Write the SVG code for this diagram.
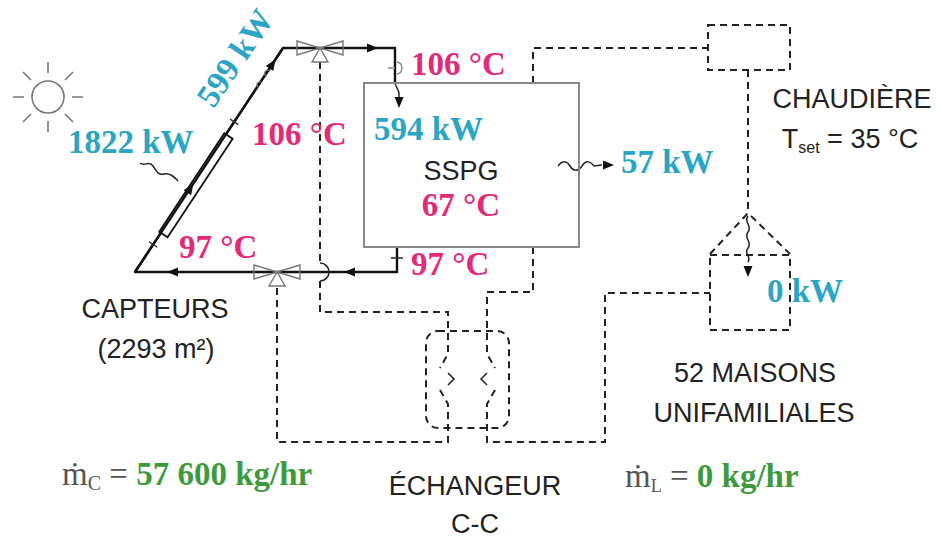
<svg xmlns="http://www.w3.org/2000/svg" width="940" height="540" viewBox="0 0 940 540">
<style>
.solid{fill:none;stroke:#111;stroke-width:2.4;stroke-linejoin:round}
.dash{fill:none;stroke:#222;stroke-width:2;stroke-dasharray:7 5}
.thin{fill:none;stroke:#222;stroke-width:1.5}
.gray{fill:none;stroke:#888;stroke-width:1.4}
.val{font-family:"Liberation Serif","Times New Roman",serif;font-weight:bold;font-size:33px}
.cy{fill:#2ba5c3}
.mg{fill:#e32a78}
.gr{fill:#3d9b3d}
.lbl{font-family:"Liberation Sans",Arial,sans-serif;font-size:27px;fill:#222}
.m{font-family:"Liberation Serif","Times New Roman",serif;font-size:33px;fill:#555}
</style>
<defs>
<path id="ah" d="M0,0 L-11,-4.5 L-11,4.5 Z" fill="#111"/>
<g id="valve"><path d="M-23,-7 L0,0 L-23,7 Z M23,-7 L0,0 L23,7 Z M0,0 L-8,14 H8 Z" fill="none" stroke="#777" stroke-width="1.4"/></g>
</defs>

<g id="sun" fill="none" stroke="#777" stroke-width="1.6">
<circle cx="48" cy="97" r="16"/>
<path d="M48,73 V62 M48,121 V132 M24,97 H13 M72,97 H83 M31,80 L23,72 M65,80 L73,72 M31,114 L23,122 M65,114 L73,122"/>
</g>

<g id="connectors">
<path class="solid" d="M397,247 V272 H135 L283,48 H395 V82"/>
<path class="thin" d="M395,82 c0,6 5,8 4,13 v3"/>
<use href="#ah" transform="translate(399,108) rotate(90)"/>
<path class="gray" d="M388,68 H395 M397,62 a5,6 0 0 1 0,12"/>
<path class="thin" d="M391,258 H403"/>
<use href="#ah" transform="translate(378,48)"/>
<use href="#ah" transform="translate(344,272) rotate(180)"/>
<use href="#ah" transform="translate(167,272) rotate(180)"/>
<path class="dash" d="M320,62 V263"/>
<path class="thin" d="M320,263 a9,9 0 0 1 0,18"/>
<path class="dash" d="M320,281 V312 H448 V354 L440,368"/>
<path class="dash" d="M440,390 L448,404 V442 H277 V286"/>
<path class="dash" d="M533,247 V292 H487 V354 L495,368"/>
<path class="dash" d="M495,390 L487,404 V442 H605 V293 H710"/>
<path class="dash" d="M533,83 V48 H708"/>
<path class="dash" d="M748,70 V213"/>
<path class="thin" d="M140,163 c5,4 9,-3 13,3 s5,9 11,8 s9,2 14,7"/>
<path class="thin" d="M558,166 c5,-6 9,-5 12,0 s8,6 12,0 s8,-5 12,0 l8,-1"/>
<use href="#ah" transform="translate(614,165)"/>
<path class="thin" d="M748,216 c-5,6 5,10 0,16 s5,10 0,16 s4,8 0,14"/>
<use href="#ah" transform="translate(748,277) rotate(90)"/>
</g>

<g id="capteurs" transform="translate(135,272) rotate(-56.55)">
<rect x="47" y="-2" width="118" height="10" fill="#fff" stroke="#111" stroke-width="1.8"/>
<path d="M0,0 H268" stroke="#111" stroke-width="2.4"/>
<path d="M33,-5 V5 M180,-5 V5" stroke="#333" stroke-width="1.4"/>
<path d="M222,2 a3,4 0 0 1 6,0 M236,2 a3,4 0 0 1 6,0" fill="none" stroke="#777" stroke-width="1.2"/>
<use href="#ah" transform="translate(106,0)"/>
<use href="#ah" transform="translate(255,0)"/>
</g>

<g id="valve-top"><use href="#valve" transform="translate(320,48)"/></g>
<g id="valve-bottom"><use href="#valve" transform="translate(277,272)"/></g>

<g id="sspg">
<rect x="364" y="83" width="215" height="164" fill="none" stroke="#888" stroke-width="2"/>
<text class="lbl" x="461" y="180" text-anchor="middle" font-size="26">SSPG</text>
<text class="val mg" x="461" y="216" text-anchor="middle">67 °C</text>
</g>

<g id="echangeur">
<rect class="dash" x="426" y="331" width="83" height="97" rx="12"/>
<path class="thin" d="M448,373 L454,379 L448,385 M487,373 L481,379 L487,385"/>
<text class="lbl" x="475" y="495" text-anchor="middle">ÉCHANGEUR</text>
<text class="lbl" x="475" y="533" text-anchor="middle">C-C</text>
</g>

<g id="chaudiere">
<rect class="dash" x="708" y="25" width="82" height="45"/>
<text class="lbl" x="852" y="108" text-anchor="middle">CHAUDIÈRE</text>
<text class="lbl" x="850" y="148" text-anchor="middle">T<tspan font-size="16" dy="5">set</tspan><tspan dy="-5"> = 35 °C</tspan></text>
</g>

<g id="maisons">
<path class="dash" d="M710,254 L748,213 L790,254"/>
<rect class="dash" x="710" y="255" width="80" height="75"/>
<text class="lbl" x="755" y="382" text-anchor="middle" font-size="28">52 MAISONS</text>
<text class="lbl" x="754" y="422" text-anchor="middle" font-size="28">UNIFAMILIALES</text>
</g>

<g id="labels">
<text class="val cy" transform="translate(235,58) rotate(-56)" x="0" y="11" text-anchor="middle">599 kW</text>
<text class="val cy" x="68" y="153">1822 kW</text>
<text class="val mg" x="252" y="145">106 °C</text>
<text class="val mg" x="411" y="75">106 °C</text>
<text class="val cy" x="374" y="140">594 kW</text>
<text class="val mg" x="179" y="258">97 °C</text>
<text class="val mg" x="411" y="275">97 °C</text>
<text class="val cy" x="621" y="173">57 kW</text>
<text class="val cy" x="767" y="302">0 kW</text>
<text class="lbl" x="155" y="318" text-anchor="middle" font-size="28">CAPTEURS</text>
<text class="lbl" x="156" y="358" text-anchor="middle" font-size="28">(2293 m²)</text>
<text class="m" x="62" y="485">ṁ<tspan font-size="20" dy="5">C</tspan><tspan dy="-5"> = </tspan><tspan class="val gr">57 600 kg/hr</tspan></text>
<text class="m" x="625" y="487">ṁ<tspan font-size="18" dy="5">L</tspan><tspan dy="-5"> = </tspan><tspan class="val gr">0 kg/hr</tspan></text>
</g>
</svg>
